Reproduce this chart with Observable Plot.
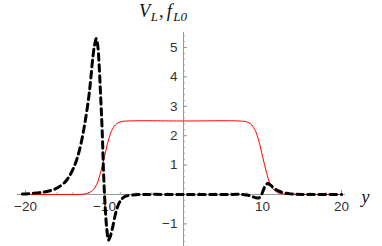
<!DOCTYPE html>
<html>
<head>
<meta charset="utf-8">
<script src="https://cdn.jsdelivr.net/npm/d3@7"></script>
<script src="https://cdn.jsdelivr.net/npm/@observablehq/plot@0.6"></script>
<style>
  html, body { margin: 0; padding: 0; background: #fff; }
  #chart { width: 382px; height: 246px; }
</style>
</head>
<body>
<div id="chart"></div>
<script>
// ---- data ----
// f_L0 (red, thin solid)
const fX = [-20.4, -16, -13, -12.5, -12, -11.5, -11, -10.5, -10, -9.5, -9, -8.5, -8, -7, 0, 7, 8, 8.5, 9, 9.5, 10, 10.5, 11, 11.5, 12, 12.5, 13, 16, 20];
const fY = [0, 0, 0.005, 0.02, 0.06, 0.14, 0.33, 0.75, 1.3, 1.85, 2.22, 2.4, 2.47, 2.5, 2.5, 2.5, 2.47, 2.4, 2.22, 1.85, 1.3, 0.75, 0.33, 0.14, 0.06, 0.02, 0.005, 0, 0];

// V_L (black, thick dashed)
const vX = [-20.4, -20, -19, -18, -17, -16, -15, -14.5, -14, -13.5, -13, -12.5, -12, -11.75, -11.5, -11.25, -11.05, -10.85, -10.7, -10.5, -10.3, -10.1, -9.9, -9.7, -9.5, -9.3, -9.0, -8.6, -8.2, -7.8, -7.3, -6.5, -5, 0, 5, 7.5, 8, 8.5, 9, 9.5, 9.8, 10.1, 10.4, 10.65, 11, 11.5, 12, 12.5, 13, 13.5, 14, 15, 20];
const vY = [0.015, 0.02, 0.04, 0.07, 0.12, 0.22, 0.42, 0.6, 0.85, 1.2, 1.7, 2.4, 3.3, 3.9, 4.6, 5.1, 5.3, 5.05, 4.5, 3.4, 2.2, 0.6, -0.5, -1.2, -1.55, -1.45, -1.15, -0.65, -0.32, -0.15, -0.06, -0.02, 0, 0, 0, 0, -0.02, -0.05, -0.1, -0.12, -0.05, 0.15, 0.32, 0.37, 0.32, 0.2, 0.12, 0.07, 0.04, 0.02, 0.01, 0, 0];

const xMajor = [-20, -10, 10, 20];
const xMinor = [-20, -18, -16, -14, -12, -10, -8, -6, -4, -2, 2, 4, 6, 8, 10, 12, 14, 16, 18, 20];
const yMajor = [-1, 1, 2, 3, 4, 5];
const yMinor = [-1.6, -1.4, -1.2, -1, -0.8, -0.6, -0.4, -0.2, 0.2, 0.4, 0.6, 0.8, 1, 1.2, 1.4, 1.6, 1.8, 2, 2.2, 2.4, 2.6, 2.8, 3, 3.2, 3.4, 3.6, 3.8, 4, 4.2, 4.4, 4.6, 4.8, 5, 5.2, 5.4];
const xDomain = [-21.05, 20.5];
const yDomain = [-1.77, 5.51];
const titleParts = [["V", false], ["L", true], [",", false], ["f", false], ["L0", true]];
const xLabel = "y";

// ---- build ----
const fData = fX.map((x, i) => ({x, y: fY[i]}));
const vData = vX.map((x, i) => ({x, y: vY[i]}));

const W = 382, H = 246;
const mL = 16.7, mR = 37, mT = 32, mB = 0;
const pxPerY = (H - mT - mB) / (yDomain[1] - yDomain[0]);
const pxPerX = (W - mL - mR) / (xDomain[1] - xDomain[0]);
const axisColor = "#999";
const fmt = d => d < 0 ? "\u2212" + Math.abs(d) : String(d);

const plot = Plot.plot({
  width: W, height: H,
  marginLeft: mL, marginRight: mR, marginTop: mT, marginBottom: mB,
  x: {domain: xDomain, axis: null},
  y: {domain: yDomain, axis: null},
  style: {background: "#fff", overflow: "visible"},
  marks: [
    Plot.ruleY([0], {x1: xDomain[0], x2: xDomain[1], stroke: axisColor, strokeWidth: 1}),
    Plot.ruleX([0], {y1: yDomain[0], y2: yDomain[1], stroke: axisColor, strokeWidth: 1}),
    Plot.ruleX(xMinor, {x: d => d, y1: 0, y2: 2 / pxPerY, stroke: axisColor, strokeWidth: 0.8}),
    Plot.ruleX(xMajor, {x: d => d, y1: 0, y2: 4 / pxPerY, stroke: axisColor, strokeWidth: 1}),
    Plot.ruleY(yMinor, {y: d => d, x1: 0, x2: 2 / pxPerX, stroke: axisColor, strokeWidth: 0.8}),
    Plot.ruleY(yMajor, {y: d => d, x1: 0, x2: 4 / pxPerX, stroke: axisColor, strokeWidth: 1}),
    Plot.text(xMajor, {x: d => d, y: 0, dy: 12, text: fmt, fontFamily: "Liberation Sans, Arial, sans-serif", fontSize: 13.5, fill: "#333"}),
    Plot.text(yMajor, {x: 0, y: d => d, dx: -6, textAnchor: "end", text: fmt, fontFamily: "Liberation Sans, Arial, sans-serif", fontSize: 13.5, fill: "#333"}),
    Plot.line(fData, {x: "x", y: "y", stroke: "#ff0000", strokeWidth: 1, curve: "catmull-rom"}),
    Plot.line(vData, {x: "x", y: "y", stroke: "#000", strokeWidth: 3, strokeDasharray: "6.5,4.5", curve: "catmull-rom"}),
    Plot.text([xLabel], {x: xDomain[1], y: 0, dx: 20, dy: 3, text: d => d, fontFamily: "Liberation Serif, Times New Roman, serif", fontStyle: "italic", fontSize: 18, fill: "#111"})
  ]
});

document.getElementById("chart").appendChild(plot);

// Title V_L, f_L0 with real subscripts, placed relative to the y axis
const svg = d3.select(plot);
const x0 = plot.scale("x").apply(0);
const t = svg.append("text")
  .attr("x", x0 - 20).attr("y", 17)
  .attr("font-family", "Liberation Serif, Times New Roman, serif")
  .attr("font-style", "italic")
  .attr("font-size", 18.5)
  .attr("fill", "#111");
const gaps = [0, 0.5, 1, 3, 1.5];
titleParts.forEach(([s, sub], i) => {
  const prevSub = i > 0 && titleParts[i - 1][1];
  const ts = t.append("tspan").text(s)
    .attr("dx", gaps[i])
    .attr("dy", sub && !prevSub ? 3.5 : (!sub && prevSub ? -3.5 : 0));
  if (sub) ts.attr("font-size", 13);
});
</script>
</body>
</html>
